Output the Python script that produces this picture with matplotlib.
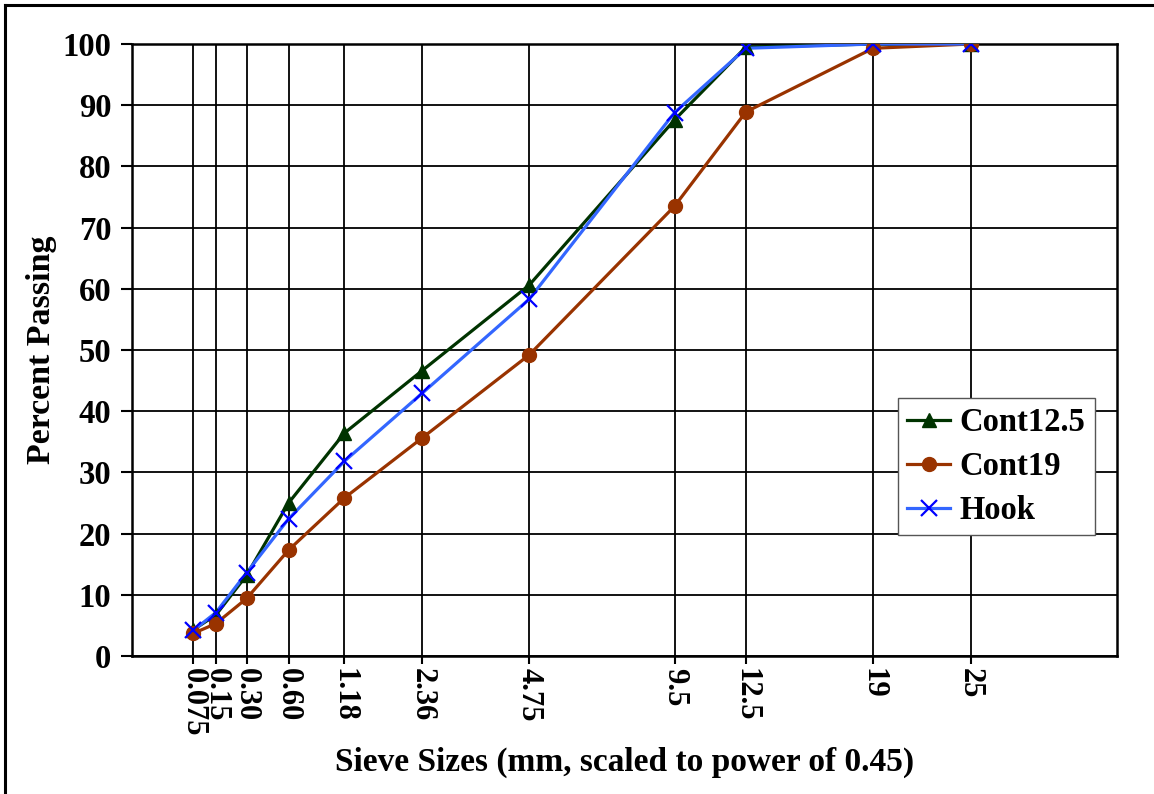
import numpy as np
import matplotlib
matplotlib.use("Agg")
import matplotlib.pyplot as plt
from matplotlib.lines import Line2D

sieve_labels = ["0.075", "0.15", "0.30", "0.60", "1.18", "2.36", "4.75", "9.5", "12.5", "19", "25"]
sieve_mm = [0.075, 0.15, 0.30, 0.60, 1.18, 2.36, 4.75, 9.5, 12.5, 19, 25]
cont125 = [4.3, 6.7, 13.2, 25.0, 36.4, 46.6, 60.6, 87.6, 99.5, 100.0, 100.0]
cont19 = [3.7, 5.3, 9.4, 17.3, 25.8, 35.6, 49.2, 73.5, 88.9, 99.3, 100.0]
hook = [4.2, 7.1, 13.6, 22.4, 31.8, 42.9, 58.3, 88.8, 99.3, 100.0, 100.0]

plt.rcParams['font.family'] = ['Liberation Serif', 'DejaVu Serif']
plt.rcParams['font.weight'] = 'bold'

fig = plt.figure(figsize=(11.54, 7.94), dpi=100)
ax = fig.add_axes([132/1154, 1-656/794, (1117-132)/1154, (656-44)/794])

x = np.array(sieve_mm) ** 0.45

series = [
    ("Cont12.5", cont125, '#003300', '#003300', '^', 10, 1.0),
    ("Cont19", cont19, '#993300', '#993300', 'o', 10, 1.0),
    ("Hook", hook, '#3366FF', '#0000FF', 'x', 11, 1.6),
]
handles = []
for name, vals, lc, mc, mk, ms, mew in series:
    ax.plot(x, vals, color=lc, lw=2.3, zorder=3, solid_joinstyle='round')
for name, vals, lc, mc, mk, ms, mew in series:
    ax.plot(x, vals, ls='none', marker=mk, ms=ms, color=mc, mec=mc, mfc=mc, mew=mew, zorder=4)
    handles.append(Line2D([], [], color=lc, lw=2.3, marker=mk, ms=ms, mfc=mc, mec=mc, mew=mew))

ax.set_xlim(0, 5)
ax.set_ylim(0, 100)
ax.set_xticks(x)
ax.set_xticklabels(sieve_labels, rotation=-90, ha='center', va='top')
ax.set_yticks(np.arange(0, 101, 10))
ax.tick_params(axis='both', width=1.5, color='black')
ax.tick_params(axis='y', length=8, pad=7, labelsize=23.5)
ax.tick_params(axis='x', length=6, pad=3, labelsize=22)
ax.grid(True, color='black', lw=1.3)
ax.set_axisbelow(True)
for s in ax.spines.values():
    s.set_linewidth(1.8)
    s.set_color('black')

ax.set_xlabel("Sieve Sizes (mm, scaled to power of 0.45)", fontsize=24, fontweight='bold')
ax.set_ylabel("Percent Passing", fontsize=24.5, fontweight='bold')
ax.xaxis.set_label_coords(0.5, (656-747)/612)
ax.yaxis.set_label_coords((57-132)/985, 0.5)

leg = ax.legend(handles, ["Cont12.5", "Cont19", "Hook"], loc='upper left',
                bbox_to_anchor=(0.778, 0.4216), borderaxespad=0, fontsize=23.5,
                fancybox=False, framealpha=1, edgecolor='#555555',
                handlelength=1.3, handletextpad=0.3, labelspacing=0.4, borderpad=0.28)
leg.get_frame().set_linewidth(1.0)
leg.set_zorder(10)

# figure border (top and left visible)
fig.add_artist(Line2D([5/1154, 5/1154], [0, 1-5/794], color='black', lw=2.2, transform=fig.transFigure))
fig.add_artist(Line2D([5/1154, 1], [1-5/794, 1-5/794], color='black', lw=2.2, transform=fig.transFigure))

fig.savefig("out.png", dpi=100)
